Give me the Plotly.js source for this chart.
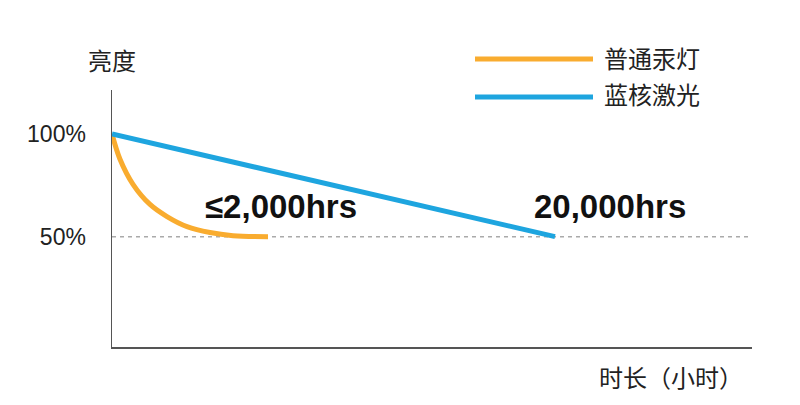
<!DOCTYPE html>
<html><head><meta charset="utf-8">
<script src="https://cdn.plot.ly/plotly-3.0.1.min.js"></script>
<style>html,body{margin:0;padding:0;background:#fff}#chart{width:800px;height:405px}</style>
</head><body><div id="chart"></div>
<script>
// Schematic data (hours on x, brightness % on y)
const seriesNames = ['普通汞灯', '蓝核激光'];
const mercuryHours = [0, 361, 948, 1716, 2483, 3386, 4424, 5463, 7043];
const mercuryBrightness = [100, 87.7, 75.5, 65.7, 59.8, 54.9, 52.0, 50.5, 50];
const laserHours = [0, 20000];
const laserBrightness = [100, 50];
const yTickValues = [50, 100];
const yTickLabels = ['50%', '100%'];
const halfLevel = 50;
const labelTexts = ['≤2,000hrs', '20,000hrs'];
const labelHours = [7630, 22480];
const labelLevel = 64.5;
const yTitle = '亮度';
const xTitle = '时长（小时）';

const orange = '#F9AC2F', blue = '#1EA5DF';
const font = 'Liberation Sans, Arial, Noto Sans CJK SC, sans-serif';
const cjk = 'Noto Sans CJK SC, sans-serif';

const W = 800, H = 405, L = 112, R = 48, T = 90, B = 58;
const px = x => (x - L) / (W - L - R);
const py = y => (H - B - y) / (H - T - B);

const traces = [
  {x: mercuryHours, y: mercuryBrightness, name: seriesNames[0], mode: 'lines',
   line: {color: orange, width: 5, shape: 'spline'}, hoverinfo: 'skip'},
  {x: laserHours, y: laserBrightness, name: seriesNames[1], mode: 'lines',
   line: {color: blue, width: 5}, hoverinfo: 'skip'}
];

const annotations = labelTexts.map((t, i) => ({
  x: labelHours[i], y: labelLevel, xref: 'x', yref: 'y', text: '<b>' + t + '</b>',
  showarrow: false, xanchor: 'center', yanchor: 'middle',
  font: {family: font, size: 33, color: '#111'}
}));
const paperText = (text, x, y, xanchor, size) => ({
  x: px(x), y: py(y), xref: 'paper', yref: 'paper', xanchor: xanchor, yanchor: 'middle',
  text: text, showarrow: false, font: {family: cjk, size: size, color: '#222'}
});
annotations.push(paperText(yTitle, 112, 60, 'center', 24));
annotations.push(paperText(xTitle, 745, 376, 'right', 24));
annotations.push(paperText(seriesNames[0], 602, 57, 'left', 24));
annotations.push(paperText(seriesNames[1], 602, 94, 'left', 24));

const shapes = [
  {type: 'line', xref: 'paper', yref: 'y', x0: 0, x1: 1, y0: halfLevel, y1: halfLevel,
   line: {color: '#aaa', width: 1.5, dash: '4px,4px'}, layer: 'below'},
  {type: 'line', xref: 'paper', yref: 'paper', x0: px(475), x1: px(593), y0: py(59), y1: py(59),
   line: {color: orange, width: 5}},
  {type: 'line', xref: 'paper', yref: 'paper', x0: px(475), x1: px(593), y0: py(97), y1: py(97),
   line: {color: blue, width: 5}}
];

const layout = {
  width: W, height: H, margin: {l: L, r: R, t: T, b: B},
  paper_bgcolor: '#fff', plot_bgcolor: '#fff', showlegend: false,
  xaxis: {range: [0, 28894], showgrid: false, zeroline: false, showticklabels: false,
          showline: true, linecolor: '#555', linewidth: 1.5, ticks: ''},
  yaxis: {range: [-3.7, 121.4], showgrid: false, zeroline: false, tickvals: yTickValues,
          ticktext: yTickLabels, showline: true, linecolor: '#555', linewidth: 1.5, ticks: '',
          ticklabelstandoff: 20, tickfont: {family: font, size: 23, color: '#222'}},
  annotations: annotations, shapes: shapes
};
Plotly.newPlot('chart', traces, layout, {displayModeBar: false, staticPlot: true});
</script></body></html>
